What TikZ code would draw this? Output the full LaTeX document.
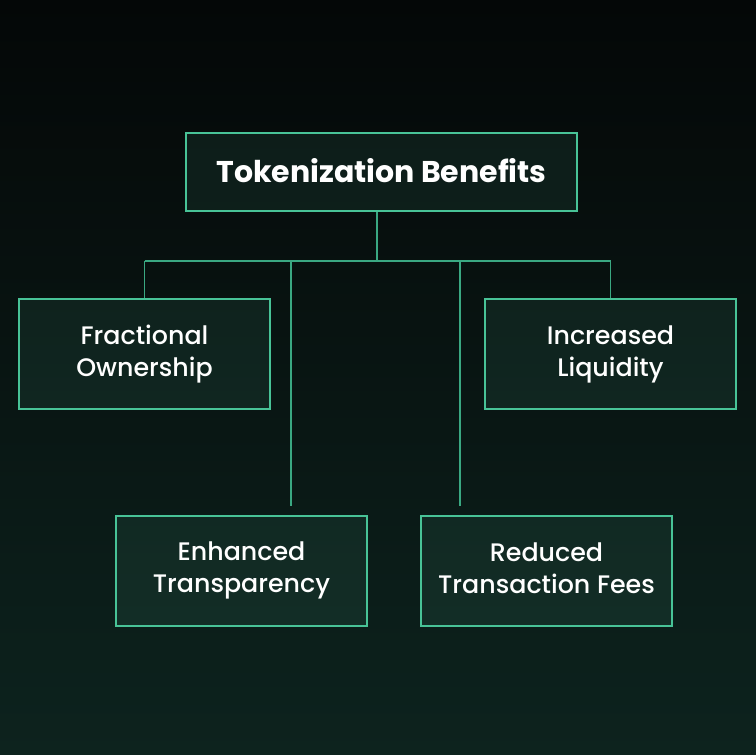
\documentclass[tikz,border=0pt]{standalone}
\usepackage{fontspec}
\setmainfont{Poppins}[UprightFont=* Medium,BoldFont=* Bold]
\usetikzlibrary{positioning}
\definecolor{ink}{HTML}{040707}
\definecolor{deep}{HTML}{0D231E}
\definecolor{mint}{HTML}{48C397}
\definecolor{wire}{HTML}{3AA882}
\definecolor{glass}{HTML}{50B496}
\newcommand\capstrut{\rule{0pt}{20pt}}
\newcommand\tailstrut{\rule[-4pt]{0pt}{4pt}}
\tikzset{
  box/.style={draw=mint,line width=1.5pt,fill=glass,fill opacity=0.1,text opacity=1,text=white,align=center,inner sep=4pt,
    execute at begin node=\capstrut,execute at end node=\tailstrut,font=\fontsize{19}{24}\selectfont},
  head/.style={box,minimum width=293pt,minimum height=58.5pt,font=\bfseries\fontsize{22.5}{24}\selectfont},
  benefit/.style={box,minimum width=188.25pt,minimum height=82.5pt},
  link/.style={draw=wire,line width=1.1pt}
}
\begin{document}
\begin{tikzpicture}[x=0.75pt,y=-0.75pt]
\shade[top color=ink,middle color=ink!55!deep,bottom color=deep] (0,0) rectangle (756,754);
\useasboundingbox (0,0) rectangle (756,754);
\node[head] (title) at (381.5,172) {Tokenization Benefits};
\node[benefit] (fractional) at (144.5,354) {Fractional\\Ownership};
\node[benefit] (liquidity) at (610.5,354) {Increased\\Liquidity};
\node[benefit] (transparency) at (241.5,570.5) {Enhanced\\Transparency};
\node[benefit] (fees) at (546.5,570.5) {Reduced\\Transaction Fees};

% bus under the title
\coordinate (stem) at (377,261);
\coordinate (leftdrop) at (291,506);
\coordinate (rightdrop) at (460,506);
\draw[link] (title.south -| stem) -- (stem);
\draw[link] (fractional.north |- stem) -- (liquidity.north |- stem);
\draw[link] (fractional.north |- stem) -- (fractional.north);
\draw[link] (liquidity.north |- stem) -- (liquidity.north);
\draw[link] (leftdrop |- stem) -- (leftdrop);
\draw[link] (rightdrop |- stem) -- (rightdrop);
\end{tikzpicture}
\end{document}
